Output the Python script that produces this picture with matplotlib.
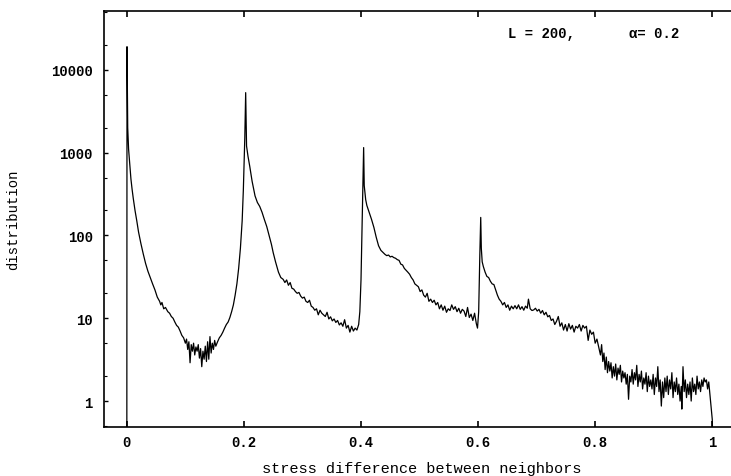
import matplotlib
matplotlib.use("Agg")
import matplotlib.pyplot as plt
from matplotlib.ticker import FixedLocator, NullFormatter

# ---- data ----
# peak at 0 and decay to the first minimum
seg1_x = [0.0, 0.0003, 0.0015, 0.003, 0.005, 0.007, 0.009, 0.011, 0.014, 0.017, 0.020, 0.024,
          0.028, 0.032, 0.036, 0.040, 0.044, 0.048, 0.052, 0.056, 0.058, 0.060, 0.063, 0.066,
          0.070, 0.073, 0.076, 0.079, 0.082, 0.085, 0.088, 0.091, 0.094, 0.097, 0.100, 0.102,
          0.104, 0.106, 0.108, 0.110, 0.112, 0.114, 0.116, 0.118, 0.120, 0.122, 0.124, 0.126,
          0.128, 0.130, 0.132, 0.134, 0.136, 0.138, 0.140, 0.142, 0.144, 0.146, 0.148, 0.150,
          0.152, 0.155, 0.158, 0.161, 0.164, 0.167, 0.170, 0.173, 0.176, 0.179, 0.182, 0.185,
          0.188, 0.191, 0.194, 0.197, 0.199, 0.2015]
seg1_y = [0.3, 19000, 2000, 1100, 720, 480, 360, 280, 200, 150, 110, 80,
          60, 46, 37, 31, 26, 22, 18, 16, 14.5, 15.5, 13, 13.5,
          12, 11.5, 10.5, 10, 9, 8.2, 7.8, 7, 6.2, 5.8, 5.0, 5.6,
          4.2, 5.2, 2.9, 4.8, 4.0, 5.0, 3.6, 4.5, 4.0, 4.8, 3.3, 4.3,
          2.6, 4.0, 3.2, 4.6, 3.0, 5.2, 3.2, 6.0, 3.8, 5.0, 4.2, 5.4,
          4.6, 5.2, 5.8, 6.2, 6.8, 7.6, 8.4, 9.0, 10.2, 12, 14.5, 19,
          26, 40, 70, 150, 350, 1500]

# peak at 0.2 and decay
seg2_x = [0.203, 0.2045, 0.207, 0.210, 0.214, 0.219, 0.223, 0.227, 0.231, 0.235, 0.239, 0.243,
          0.247, 0.250, 0.254, 0.259, 0.263, 0.267, 0.270, 0.273, 0.276, 0.279, 0.282, 0.285,
          0.288, 0.291, 0.294, 0.297, 0.300, 0.303, 0.306, 0.309, 0.312, 0.315, 0.318, 0.321,
          0.324, 0.327, 0.330, 0.333, 0.336, 0.339, 0.342, 0.345, 0.348, 0.351, 0.354, 0.357,
          0.360, 0.363, 0.366, 0.369, 0.372, 0.375, 0.378, 0.381, 0.384, 0.387, 0.390, 0.393,
          0.396, 0.398, 0.400, 0.402]
seg2_y = [5300, 1200, 900, 680, 450, 300, 250, 224, 190, 155, 128, 100,
          78, 62, 48, 36, 31, 29.5, 27, 29, 25, 27, 23, 22.5,
          21, 20, 20.5, 18.5, 17.5, 18, 16, 15.5, 16.5, 14, 13.5, 12.5,
          13, 11, 12.5, 11.5, 11, 10.5, 11.8, 9.8, 10.4, 9.3, 9.8, 8.9,
          9.4, 8.3, 8.8, 8.0, 9.6, 7.6, 8.2, 6.8, 8.0, 7.0, 7.6, 7.2,
          8.4, 12, 29, 150]

# peak at 0.4 and decay
seg3_x = [0.4045, 0.4055, 0.408, 0.410, 0.414, 0.418, 0.422, 0.426, 0.430, 0.434, 0.438, 0.441,
          0.444, 0.447, 0.450, 0.453, 0.456, 0.459, 0.462, 0.465, 0.468, 0.471, 0.474, 0.477,
          0.480, 0.483, 0.486, 0.489, 0.492, 0.495, 0.498, 0.501, 0.504, 0.507, 0.510, 0.513,
          0.516, 0.519, 0.522, 0.525, 0.528, 0.531, 0.534, 0.537, 0.540, 0.543, 0.546, 0.549,
          0.552, 0.555, 0.558, 0.561, 0.564, 0.567, 0.570, 0.573, 0.576, 0.579, 0.582, 0.585,
          0.588, 0.591, 0.594, 0.597, 0.599, 0.601, 0.603]
seg3_y = [1150, 400, 270, 230, 190, 156, 125, 95, 75, 66, 62, 59,
          57, 58, 55, 56, 54, 53, 51, 50, 45, 44, 40, 38,
          36, 34, 31, 29, 26, 25, 24, 21, 22, 19, 18, 20,
          16, 17, 15.5, 16.5, 14.5, 15.5, 13.0, 14.5, 12.5, 14.0, 11.8, 13,
          12.4, 14.5, 12.8, 13.8, 12.0, 13.2, 11.5, 12.8, 12.2, 10.5, 13.5, 10.2,
          11.2, 9.4, 11.5, 8.6, 7.6, 12, 60]

# peak at 0.6 and decay to the shoulder at 0.8
seg4_x = [0.6045, 0.6055, 0.607, 0.609, 0.612, 0.615, 0.618, 0.621, 0.624, 0.627, 0.630, 0.633,
          0.636, 0.639, 0.642, 0.645, 0.648, 0.651, 0.654, 0.657, 0.660, 0.663, 0.666, 0.669,
          0.672, 0.675, 0.678, 0.681, 0.684, 0.686, 0.689, 0.692, 0.695, 0.698, 0.701, 0.704,
          0.707, 0.710, 0.713, 0.716, 0.719, 0.722, 0.725, 0.728, 0.731, 0.734, 0.737, 0.740,
          0.743, 0.746, 0.749, 0.752, 0.755, 0.758, 0.761, 0.764, 0.767, 0.770, 0.773, 0.776,
          0.779, 0.782, 0.785, 0.788, 0.791, 0.794, 0.797, 0.800]
seg4_y = [165, 70, 48, 42, 36, 32, 31, 28, 26, 25.5, 22, 19,
          17, 16, 14.5, 15.5, 13.5, 14.5, 12.5, 14, 13, 14.2, 13.0, 14.5,
          12.8, 13.8, 12.5, 14, 13.2, 17, 13, 12.4, 12.6, 13.2, 12.2, 12.8,
          11.5, 12.4, 11.0, 11.8, 10.4, 10.8, 9.4, 9.8, 8.4, 9.2, 10.5, 8.0,
          8.8, 7.2, 8.4, 7.0, 8.6, 7.4, 8.2, 6.8, 8.0, 7.6, 8.4, 7.0,
          8.2, 7.6, 8.0, 5.4, 7.2, 6.4, 6.8, 5.0]

# noisy tail from 0.8 to 1
seg5_x = [0.803, 0.806, 0.809, 0.811, 0.813, 0.815, 0.817, 0.819, 0.821, 0.823, 0.825, 0.827,
          0.829, 0.831, 0.833, 0.835, 0.837, 0.839, 0.841, 0.843, 0.845, 0.847, 0.849, 0.851,
          0.853, 0.855, 0.857, 0.859, 0.861, 0.863, 0.865, 0.867, 0.869, 0.871, 0.873, 0.875,
          0.877, 0.879, 0.881, 0.883, 0.885, 0.887, 0.889, 0.891, 0.893, 0.895, 0.897, 0.899,
          0.901, 0.903, 0.905, 0.907, 0.909, 0.911, 0.913, 0.915, 0.917, 0.919, 0.921, 0.923,
          0.925, 0.927, 0.929, 0.931, 0.933, 0.935, 0.937, 0.939, 0.941, 0.943, 0.945, 0.947,
          0.948, 0.950, 0.952, 0.954, 0.956, 0.958, 0.960, 0.962, 0.964, 0.966, 0.968, 0.970,
          0.972, 0.974, 0.976, 0.978, 0.980, 0.982, 0.984, 0.986, 0.988, 0.990, 0.992, 0.994,
          0.996, 0.998, 1.000, 1.001]
seg5_y = [5.6, 4.5, 3.6, 4.8, 3.0, 3.8, 2.4, 3.4, 2.2, 3.0, 2.3, 2.9,
          1.9, 2.6, 2.0, 2.8, 1.8, 2.5, 2.1, 2.7, 1.7, 2.3, 1.9, 2.2,
          1.6, 2.1, 1.05, 2.0, 1.7, 2.4, 1.6, 2.2, 1.8, 2.7, 1.5, 2.1,
          1.7, 2.3, 1.4, 1.9, 1.6, 2.2, 1.3, 2.0, 1.5, 1.8, 1.4, 2.1,
          1.2, 1.9, 1.5, 2.6, 1.3, 1.8, 0.87, 1.7, 1.1, 1.9, 1.3, 2.0,
          1.2, 1.8, 1.4, 2.2, 1.1, 1.7, 1.3, 1.9, 1.2, 1.6, 1.0, 1.5,
          0.8, 2.6, 1.3, 1.8, 1.1, 1.6, 1.2, 1.7, 1.0, 1.9, 1.3, 1.6,
          1.2, 2.0, 1.4, 1.7, 1.3, 1.8, 1.5, 1.9, 1.7, 1.8, 1.4, 1.7,
          1.2, 0.85, 0.6, 0.3]

xs = seg1_x + seg2_x + seg3_x + seg4_x + seg5_x
ys = seg1_y + seg2_y + seg3_y + seg4_y + seg5_y

x_ticks = [0, 0.2, 0.4, 0.6, 0.8, 1]
x_tick_labels = ["0", "0.2", "0.4", "0.6", "0.8", "1"]
y_ticks = [1, 10, 100, 1000, 10000]
y_tick_labels = ["1", "10", "100", "1000", "10000"]
y_minor = [0.5, 2, 5, 20, 50, 200, 500, 2000, 5000, 20000, 50000]

# ---- figure ----
mono = "Liberation Mono"
fig = plt.figure(figsize=(7.31, 4.77), dpi=100)
ax = fig.add_axes([104 / 731, 49 / 477, 627 / 731, 416 / 477])

ax.plot(xs, ys, color="black", linewidth=0.9)
ax.set_yscale("log")
ax.set_xlim(-0.039, 1.032)
ax.set_ylim(0.486, 51300)

ax.set_xticks(x_ticks)
ax.set_xticklabels(x_tick_labels, fontfamily=mono, fontsize=10, fontweight="bold")
ax.yaxis.set_major_locator(FixedLocator(y_ticks))
ax.set_yticklabels(y_tick_labels, fontfamily=mono, fontsize=10, fontweight="bold")
ax.yaxis.set_minor_locator(FixedLocator(y_minor))
ax.yaxis.set_minor_formatter(NullFormatter())

ax.tick_params(axis="x", which="major", direction="in", top=True, bottom=True,
               length=4, width=1.2, pad=6)
ax.tick_params(axis="x", which="minor", bottom=False, top=False)
ax.tick_params(axis="y", which="major", direction="in", left=True, right=False,
               length=3, width=1.0, pad=8)
ax.tick_params(axis="y", which="minor", direction="in", left=True, right=False,
               length=2, width=0.8)

for side in ["left", "bottom", "top"]:
    ax.spines[side].set_linewidth(1.2)
ax.spines["right"].set_visible(False)

ax.set_xlabel("stress difference between neighbors", fontfamily=mono, fontsize=11)
ax.xaxis.set_label_coords(0.506, -0.082)
ax.set_ylabel("distribution", fontfamily=mono, fontsize=10)
ax.yaxis.set_label_coords(-0.133, 0.5)

ax.text(0.644, 0.947, "L = 200,", transform=ax.transAxes, fontfamily=mono,
        fontsize=10, fontweight="bold", ha="left", va="center")
ax.text(0.837, 0.947, "\u03b1= 0.2", transform=ax.transAxes, fontfamily=mono,
        fontsize=10, fontweight="bold", ha="left", va="center")

fig.savefig("out.png", dpi=100)
